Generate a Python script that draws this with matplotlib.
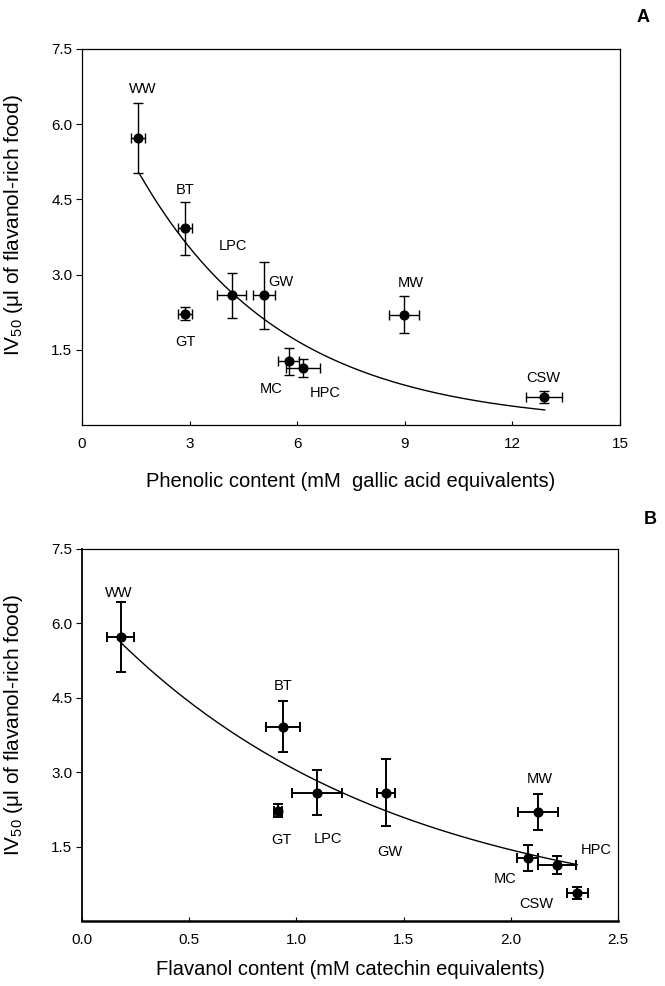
import numpy as np
import matplotlib
matplotlib.use('Agg')
import matplotlib.pyplot as plt

plt.rcParams['font.family'] = ['Liberation Sans', 'DejaVu Sans']
plt.rcParams['mathtext.fontset'] = 'custom'
plt.rcParams['mathtext.rm'] = 'Liberation Sans'

# 식품별 데이터
foods = ['WW', 'BT', 'LPC', 'GW', 'GT', 'MW', 'MC', 'HPC', 'CSW']
iv50 = [5.73, 3.92, 2.59, 2.59, 2.22, 2.20, 1.27, 1.13, 0.56]
iv50_err = [0.70, 0.52, 0.45, 0.67, 0.13, 0.37, 0.27, 0.18, 0.12]

phenolic = [1.57, 2.87, 4.17, 5.08, 2.87, 8.98, 5.76, 6.17, 12.87]
phenolic_err = [0.20, 0.20, 0.40, 0.30, 0.20, 0.41, 0.30, 0.47, 0.50]

flavanol = [0.18, 0.937, 1.095, 1.418, 0.915, 2.128, 2.079, 2.217, 2.31]
flavanol_err = [0.064, 0.08, 0.116, 0.04, 0.02, 0.093, 0.05, 0.089, 0.05]

# 라벨 위치 (x, y)
labels_a = [(1.69, 6.71), (2.87, 4.68), (4.2, 3.57), (5.55, 2.85), (2.89, 1.66),
            (9.16, 2.83), (5.27, 0.72), (6.77, 0.64), (12.87, 0.93)]
labels_b = [(0.17, 6.62), (0.94, 4.73), (1.149, 1.65), (1.437, 1.385), (0.93, 1.63),
            (2.136, 2.86), (1.973, 0.85), (2.40, 1.43), (2.12, 0.34)]

# 지수 감소 회귀 곡선 계수 y = a * exp(-b x)
fit_a = (7.47, 0.249, 1.6, 12.9)
fit_b = (6.43, 0.75, 0.18, 2.31)

fig = plt.figure(figsize=(6.65, 9.86), dpi=100)
ax1 = fig.add_axes([82/665, 1-425/986, 538/665, 376/986])
ax2 = fig.add_axes([82/665, 1-921/986, 536/665, 372/986])


def draw(ax, x, xerr, labels, fit, xlim, xticks, xfmt, xlabel, lw, elw, ly, lpad):
    a, b, x0, x1 = fit
    xs = np.linspace(x0, x1, 200)
    ax.plot(xs, a * np.exp(-b * xs), color='black', lw=1.0)
    ax.errorbar(x, iv50, xerr=xerr, yerr=iv50_err, fmt='o', color='black',
                ms=6.3, elinewidth=elw, capsize=3.8, capthick=elw)
    for name, (lx, lyy) in zip(foods, labels):
        ax.text(lx, lyy, name, ha='center', va='center', fontsize=10.5)
    ax.set_xlim(*xlim)
    ax.set_ylim(0, 7.5)
    ax.set_xticks(xticks)
    ax.set_xticklabels([xfmt.format(t) for t in xticks])
    ax.set_yticks([1.5, 3.0, 4.5, 6.0, 7.5])
    ax.set_yticklabels(['1.5', '3.0', '4.5', '6.0', '7.5'])
    ax.tick_params(axis='x', direction='in', length=3, width=0.8, labelsize=11, pad=9)
    ax.tick_params(axis='y', direction='out', length=4, width=0.8, labelsize=11, pad=3)
    for s in ax.spines.values():
        s.set_linewidth(lw)
    ax.set_xlabel(xlabel, fontsize=14.5, labelpad=lpad)
    ax.set_ylabel(r'IV$_\mathregular{50}$ (μl of flavanol-rich food)', fontsize=15)
    ax.yaxis.set_label_coords(-0.106, ly)


draw(ax1, phenolic, phenolic_err, labels_a, fit_a, (0, 15), [0, 3, 6, 9, 12, 15], '{:g}',
     'Phenolic content (mM  gallic acid equivalents)', 0.9, 1.0, 0.532, 15)
draw(ax2, flavanol, flavanol_err, labels_b, fit_b, (0, 2.5), [0, 0.5, 1.0, 1.5, 2.0, 2.5], '{:.1f}',
     'Flavanol content (mM catechin equivalents)', 0.9, 1.4, 0.527, 9)
ax2.spines['bottom'].set_linewidth(1.8)
ax2.spines['left'].set_linewidth(1.3)

fig.text(643/665, 1-18/986, 'A', fontsize=13, fontweight='bold', ha='center', va='center')
fig.text(650/665, 1-519/986, 'B', fontsize=13, fontweight='bold', ha='center', va='center')

fig.savefig('out.png', dpi=100)
